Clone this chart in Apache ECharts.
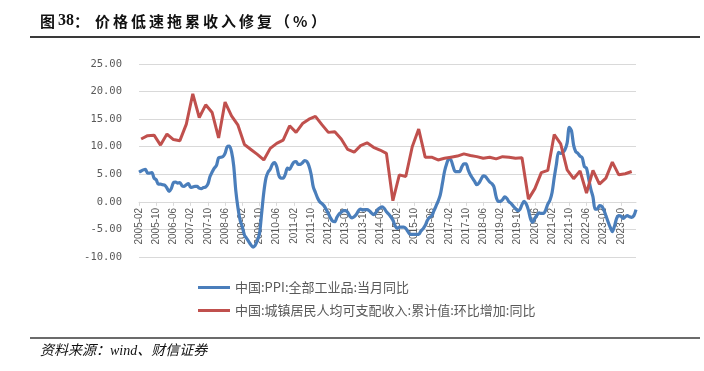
<!DOCTYPE html>
<html><head><meta charset="utf-8">
<script src="https://cdn.jsdelivr.net/npm/echarts@6/dist/echarts.min.js"></script>
<style>html,body{margin:0;padding:0;background:#fff}#c{width:704px;height:371px}</style>
</head><body><div id="c"></div>
<script>
// Month range of the x axis
const startYear = 2005, startMonth = 2, endYear = 2024, endMonth = 5;
// Tick label step (months)
const labelStep = 8;
const yTicks = [-10, -5, 0, 5, 10, 15, 20, 25];

const seriesNames = ['中国:PPI:全部工业品:当月同比', '中国:城镇居民人均可支配收入:累计值:环比增加:同比'];

// PPI monthly, 2005-02 .. 2024-05
const ppi2005 = [5.4, 5.6, 5.8, 5.9, 5.2, 5.2, 5.3, 4.3, 4.0, 3.2, 3.2];
const ppi2006 = [3.1, 3.0, 2.5, 1.9, 2.4, 3.5, 3.6, 3.4, 3.5, 2.9, 2.8, 3.1];
const ppi2007 = [3.3, 2.6, 2.7, 2.8, 2.8, 2.5, 2.4, 2.6, 2.7, 3.2, 4.6, 5.4];
const ppi2008 = [6.1, 6.6, 8.0, 8.1, 8.2, 8.8, 10.0, 10.1, 9.1, 6.6, 2.0, -1.1];
const ppi2009 = [-3.3, -4.5, -6.0, -6.6, -7.2, -7.8, -8.2, -7.9, -7.0, -5.8, -2.1, 1.7];
const ppi2010 = [4.3, 5.4, 5.9, 6.8, 7.1, 6.4, 4.8, 4.3, 4.3, 5.0, 6.1, 5.9];
const ppi2011 = [6.6, 7.2, 7.3, 6.8, 6.8, 7.1, 7.5, 7.3, 6.5, 5.0, 2.7, 1.7];
const ppi2012 = [0.7, 0.0, -0.3, -0.7, -1.4, -2.1, -2.9, -3.5, -3.6, -2.8, -2.2, -1.9];
const ppi2013 = [-1.6, -1.6, -1.9, -2.6, -2.9, -2.7, -2.3, -1.6, -1.3, -1.5, -1.4, -1.4];
const ppi2014 = [-1.6, -2.0, -2.3, -2.0, -1.4, -1.1, -0.9, -1.2, -1.8, -2.2, -2.7, -3.3];
const ppi2015 = [-4.3, -4.8, -4.6, -4.6, -4.6, -4.8, -5.4, -5.9, -5.9, -5.9, -5.9, -5.9];
const ppi2016 = [-5.3, -4.9, -4.3, -3.4, -2.8, -2.6, -1.7, -0.8, 0.1, 1.2, 3.3, 5.5];
const ppi2017 = [6.9, 7.8, 7.6, 6.4, 5.5, 5.5, 5.5, 6.3, 6.9, 6.9, 5.8, 4.9];
const ppi2018 = [4.3, 3.7, 3.1, 3.4, 4.1, 4.7, 4.6, 4.1, 3.6, 3.3, 2.7, 0.9];
const ppi2019 = [0.1, 0.1, 0.4, 0.9, 0.6, 0.0, -0.3, -0.8, -1.2, -1.6, -1.4, -0.5];
const ppi2020 = [0.1, -0.4, -1.5, -3.1, -3.7, -3.0, -2.4, -2.0, -2.1, -2.1, -1.5, -0.4];
const ppi2021 = [0.3, 1.7, 4.4, 6.8, 9.0, 8.8, 9.0, 9.5, 10.7, 13.5, 12.9, 10.3];
const ppi2022 = [9.1, 8.8, 8.3, 8.0, 6.4, 6.1, 4.2, 2.3, 0.9, -1.3, -1.3, -0.7];
const ppi2023 = [-0.8, -1.4, -2.5, -3.6, -4.6, -5.4, -4.4, -3.0, -2.5, -2.6, -3.0, -2.7];
const ppi2024 = [-2.5, -2.7, -2.8, -2.5, -1.4];

// Urban disposable income, quarterly (Mar, Jun, Sep, Dec), 2005Q1 .. 2024Q1
const inc2005 = [11.4, 12.0, 12.1, 10.3];
const inc2006 = [12.3, 11.3, 11.1, 14.1];
const inc2007 = [19.6, 15.3, 17.6, 16.2];
const inc2008 = [11.6, 18.1, 15.6, 13.9];
const inc2009 = [10.4, 9.5, 8.6, 7.6];
const inc2010 = [9.7, 10.6, 11.2, 13.8];
const inc2011 = [12.6, 14.2, 15.0, 15.5];
const inc2012 = [14.0, 12.6, 12.7, 11.4];
const inc2013 = [9.5, 9.0, 10.2, 10.7];
const inc2014 = [9.9, 9.4, 8.8, 0.2];
const inc2015 = [4.9, 4.6, 10.0, 13.2];
const inc2016 = [8.1, 8.1, 7.6, 7.9];
const inc2017 = [8.1, 8.3, 8.7, 8.4];
const inc2018 = [8.2, 7.9, 8.1, 7.8];
const inc2019 = [8.2, 8.1, 7.9, 8.0];
const inc2020 = [0.5, 2.4, 5.3, 5.7];
const inc2021 = [12.2, 10.5, 5.8, 4.2];
const inc2022 = [5.6, 1.6, 5.7, 3.2];
const inc2023 = [4.3, 7.2, 4.9, 5.1];
const inc2024 = [5.5];

const ppi = [].concat(ppi2005, ppi2006, ppi2007, ppi2008, ppi2009, ppi2010, ppi2011, ppi2012, ppi2013, ppi2014,
  ppi2015, ppi2016, ppi2017, ppi2018, ppi2019, ppi2020, ppi2021, ppi2022, ppi2023, ppi2024);
const incQ = [].concat(inc2005, inc2006, inc2007, inc2008, inc2009, inc2010, inc2011, inc2012, inc2013, inc2014,
  inc2015, inc2016, inc2017, inc2018, inc2019, inc2020, inc2021, inc2022, inc2023, inc2024);

const categories = [];
for (let y = startYear, m = startMonth; y < endYear || (y === endYear && m <= endMonth);) {
  categories.push(y + '-' + (m < 10 ? '0' + m : m));
  m++; if (m > 12) { m = 1; y++; }
}
const income = categories.map(() => null);
incQ.forEach((v, k) => {
  const y = startYear + Math.floor(k / 4), m = 3 + (k % 4) * 3;
  const idx = categories.indexOf(y + '-' + (m < 10 ? '0' + m : m));
  if (idx >= 0) income[idx] = v;
});

const chart = echarts.init(document.getElementById('c'), null, {renderer: 'canvas'});

const gridTop = 64, gridBottom = 114, chartH = 371;
const plotH = chartH - gridTop - gridBottom;
// distance from the bottom of the plot up to the zero line
const zeroOffset = plotH * (0 - yTicks[0]) / (yTicks[yTicks.length - 1] - yTicks[0]);

const titleChars = '价格低速拖累收入修复（%）'.split('');
const graphics = [
  {type: 'line', shape: {x1: 30, y1: 37, x2: 700, y2: 37}, style: {stroke: '#3a3a3a', lineWidth: 2}},
  {type: 'line', shape: {x1: 30, y1: 338, x2: 700, y2: 338}, style: {stroke: '#3a3a3a', lineWidth: 1.5}},
  {type: 'text', left: 40, top: 14, style: {text: '图', font: 'bold 15px "Noto Sans CJK SC"', fill: '#111'}},
  {type: 'text', left: 58, top: 13, style: {text: '38', font: 'bold 16px "Liberation Serif"', fill: '#111'}},
  {type: 'text', left: 74, top: 14, style: {text: '：', font: 'bold 15px "Noto Sans CJK SC"', fill: '#111'}},
  {type: 'text', left: 40, top: 344, style: {text: '资料来源：wind、财信证券', font: 'italic 14px "Liberation Serif", "Noto Sans CJK SC"', fill: '#111'}}
];
titleChars.forEach((ch, i) => {
  graphics.push({type: 'text', left: 95 + i * 18, top: 14, style: {text: ch, font: 'bold 15px "Noto Sans CJK SC"', fill: '#111'}});
});

chart.setOption({
  animation: false,
  backgroundColor: '#fff',
  graphic: graphics,
  grid: {left: 139, right: 68, top: gridTop, bottom: gridBottom, containLabel: false},
  legend: {
    orient: 'vertical', left: 193, top: 276, itemWidth: 32, itemHeight: 3, itemGap: 10,
    icon: 'rect',
    textStyle: {fontSize: 13, color: '#595959', fontFamily: '"Noto Sans CJK SC"'},
    data: seriesNames
  },
  xAxis: {
    type: 'category', data: categories, boundaryGap: false,
    offset: -zeroOffset,
    axisLine: {onZero: false, lineStyle: {color: '#d9d9d9', width: 1}},
    axisTick: {show: true, interval: labelStep - 1, length: 4, lineStyle: {color: '#d9d9d9'}},
    axisLabel: {interval: labelStep - 1, rotate: 90, fontSize: 10, color: '#595959', fontFamily: '"Liberation Sans"', margin: 6}
  },
  yAxis: {
    type: 'value', min: yTicks[0], max: yTicks[yTicks.length - 1], interval: 5,
    axisLine: {show: false}, axisTick: {show: false},
    splitLine: {lineStyle: {color: '#d9d9d9', width: 1}},
    axisLabel: {formatter: v => v.toFixed(2), fontSize: 10.5, color: '#595959', fontFamily: '"DejaVu Sans Mono"', margin: 17}
  },
  series: [
    {name: seriesNames[0], type: 'line', data: ppi, showSymbol: false, smooth: 0.3,
      lineStyle: {color: '#4a7ebb', width: 3.2}, itemStyle: {color: '#4a7ebb'}},
    {name: seriesNames[1], type: 'line', data: income, showSymbol: false, connectNulls: true,
      lineStyle: {color: '#c0504d', width: 3}, itemStyle: {color: '#c0504d'}}
  ]
});
</script></body></html>
